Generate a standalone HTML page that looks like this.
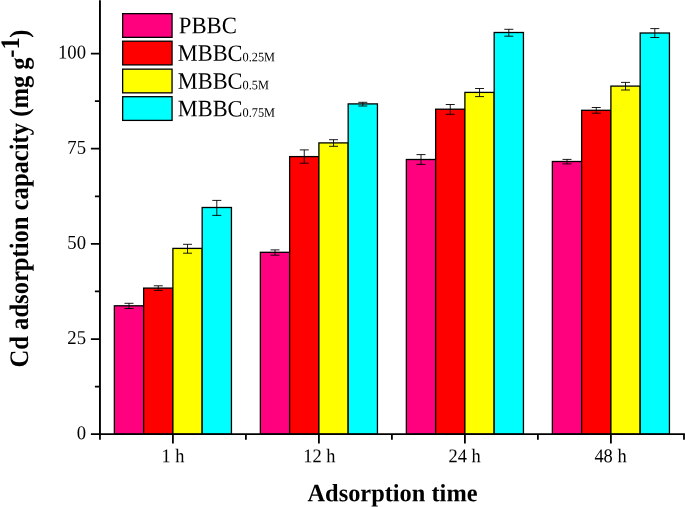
<!DOCTYPE html>
<html><head><meta charset="utf-8"><title>Cd adsorption capacity</title>
<style>
html,body{margin:0;padding:0;background:#fff;}
body{width:685px;height:507px;overflow:hidden;}
svg{display:block;will-change:transform;}
text{font-family:"Liberation Serif","Times New Roman",serif;fill:#000;text-rendering:geometricPrecision;}
.b{font-weight:bold;}
</style></head><body>
<svg width="685" height="507" viewBox="0 0 685 507">
<rect width="685" height="507" fill="#fff"/>
<rect x="114.36" y="305.80" width="29.27" height="128.45" fill="#ff007f" stroke="#000" stroke-width="1.3"/>
<rect x="143.63" y="288.10" width="29.27" height="146.15" fill="#ff0000" stroke="#000" stroke-width="1.3"/>
<rect x="172.90" y="248.40" width="29.27" height="185.85" fill="#ffff00" stroke="#000" stroke-width="1.3"/>
<rect x="202.17" y="207.50" width="29.27" height="226.75" fill="#00ffff" stroke="#000" stroke-width="1.3"/>
<rect x="260.36" y="252.30" width="29.27" height="181.95" fill="#ff007f" stroke="#000" stroke-width="1.3"/>
<rect x="289.63" y="156.60" width="29.27" height="277.65" fill="#ff0000" stroke="#000" stroke-width="1.3"/>
<rect x="318.90" y="142.90" width="29.27" height="291.35" fill="#ffff00" stroke="#000" stroke-width="1.3"/>
<rect x="348.17" y="103.90" width="29.27" height="330.35" fill="#00ffff" stroke="#000" stroke-width="1.3"/>
<rect x="406.36" y="159.50" width="29.27" height="274.75" fill="#ff007f" stroke="#000" stroke-width="1.3"/>
<rect x="435.63" y="109.20" width="29.27" height="325.05" fill="#ff0000" stroke="#000" stroke-width="1.3"/>
<rect x="464.90" y="92.40" width="29.27" height="341.85" fill="#ffff00" stroke="#000" stroke-width="1.3"/>
<rect x="494.17" y="32.50" width="29.27" height="401.75" fill="#00ffff" stroke="#000" stroke-width="1.3"/>
<rect x="552.36" y="161.50" width="29.27" height="272.75" fill="#ff007f" stroke="#000" stroke-width="1.3"/>
<rect x="581.63" y="110.30" width="29.27" height="323.95" fill="#ff0000" stroke="#000" stroke-width="1.3"/>
<rect x="610.90" y="86.10" width="29.27" height="348.15" fill="#ffff00" stroke="#000" stroke-width="1.3"/>
<rect x="640.17" y="33.00" width="29.27" height="401.25" fill="#00ffff" stroke="#000" stroke-width="1.3"/>
<path d="M129.00 303.30V308.50M124.50 303.30h9M124.50 308.50h9" stroke="#000" stroke-width="0.9" fill="none"/>
<path d="M158.26 285.80V290.40M153.76 285.80h9M153.76 290.40h9" stroke="#000" stroke-width="0.9" fill="none"/>
<path d="M187.53 244.30V253.20M183.03 244.30h9M183.03 253.20h9" stroke="#000" stroke-width="0.9" fill="none"/>
<path d="M216.81 200.40V215.40M212.31 200.40h9M212.31 215.40h9" stroke="#000" stroke-width="0.9" fill="none"/>
<path d="M275.00 249.90V255.20M270.50 249.90h9M270.50 255.20h9" stroke="#000" stroke-width="0.9" fill="none"/>
<path d="M304.26 149.90V163.20M299.76 149.90h9M299.76 163.20h9" stroke="#000" stroke-width="0.9" fill="none"/>
<path d="M333.54 139.70V146.30M329.04 139.70h9M329.04 146.30h9" stroke="#000" stroke-width="0.9" fill="none"/>
<path d="M362.81 102.30V106.00M358.31 102.30h9M358.31 106.00h9" stroke="#000" stroke-width="0.9" fill="none"/>
<path d="M421.00 154.60V164.40M416.50 154.60h9M416.50 164.40h9" stroke="#000" stroke-width="0.9" fill="none"/>
<path d="M450.26 104.50V114.30M445.76 104.50h9M445.76 114.30h9" stroke="#000" stroke-width="0.9" fill="none"/>
<path d="M479.54 88.50V96.60M475.04 88.50h9M475.04 96.60h9" stroke="#000" stroke-width="0.9" fill="none"/>
<path d="M508.81 29.30V36.20M504.31 29.30h9M504.31 36.20h9" stroke="#000" stroke-width="0.9" fill="none"/>
<path d="M567.00 159.40V163.90M562.50 159.40h9M562.50 163.90h9" stroke="#000" stroke-width="0.9" fill="none"/>
<path d="M596.26 107.50V113.20M591.76 107.50h9M591.76 113.20h9" stroke="#000" stroke-width="0.9" fill="none"/>
<path d="M625.53 82.40V90.00M621.03 82.40h9M621.03 90.00h9" stroke="#000" stroke-width="0.9" fill="none"/>
<path d="M654.81 28.60V37.50M650.31 28.60h9M650.31 37.50h9" stroke="#000" stroke-width="0.9" fill="none"/>
<path d="M99.95 0.3V434.25" stroke="#000" stroke-width="1.9" fill="none"/><path d="M99 434.15H684.9" stroke="#000" stroke-width="1.75" fill="none"/>
<path d="M90.9 434.20H99.9M90.9 339.04H99.9M90.9 243.88H99.9M90.9 148.72H99.9M90.9 53.56H99.9M94.9 386.62H99.9M94.9 291.46H99.9M94.9 196.30H99.9M94.9 101.14H99.9M172.9 434.25V443.6M318.9 434.25V443.6M464.9 434.25V443.6M610.9 434.25V443.6M99.95 434.25V439.7M245.9 434.25V439.7M391.9 434.25V439.7M537.9 434.25V439.7M684.0 434.25V439.7" stroke="#000" stroke-width="1.8" fill="none"/>
<text transform="translate(86.00 439.20) rotate(0.03) scale(1.0 1.05)" font-size="18.7" text-anchor="end">0</text>
<text transform="translate(86.00 344.04) rotate(0.03) scale(1.0 1.05)" font-size="18.7" text-anchor="end">25</text>
<text transform="translate(86.00 248.88) rotate(0.03) scale(1.0 1.05)" font-size="18.7" text-anchor="end">50</text>
<text transform="translate(86.00 153.72) rotate(0.03) scale(1.0 1.05)" font-size="18.7" text-anchor="end">75</text>
<text transform="translate(86.00 58.56) rotate(0.03) scale(1.0 1.05)" font-size="18.7" text-anchor="end">100</text>
<text transform="translate(173.00 462.35) rotate(0.03) scale(1.0 1.057)" font-size="18.4" text-anchor="middle">1 h</text>
<text transform="translate(319.30 462.35) rotate(0.03) scale(1.0 1.057)" font-size="18.4" text-anchor="middle">12 h</text>
<text transform="translate(464.70 462.35) rotate(0.03) scale(1.0 1.057)" font-size="18.4" text-anchor="middle">24 h</text>
<text transform="translate(610.50 462.35) rotate(0.03) scale(1.0 1.057)" font-size="18.4" text-anchor="middle">48 h</text>
<text class="b" transform="translate(392.50 501.20) rotate(0.03) scale(1.0 1.02)" font-size="24.4" text-anchor="middle">Adsorption time</text>
<text class="b" transform="translate(28.40 367.50) rotate(-90) scale(1.0 1.085)" font-size="24.6" text-anchor="start">Cd adsorption capacity (mg g<tspan dy="-8.3" dx="-0.4">-1</tspan><tspan dy="8.3" dx="-0.4">)</tspan></text>
<rect x="122.65" y="13.65" width="49.4" height="23.7" fill="#ff007f" stroke="#000" stroke-width="1.3"/>
<text transform="translate(178.80 33.30) rotate(0.03) scale(1.0 1.05)" font-size="22.7" text-anchor="start">PBBC</text>
<rect x="122.65" y="41.20" width="49.4" height="23.7" fill="#ff0000" stroke="#000" stroke-width="1.3"/>
<text transform="translate(177.80 60.85) rotate(0.03) scale(1.0 1.05)" font-size="22.4" text-anchor="start">MBBC<tspan font-size="12.3" dy="0.4">0.25M</tspan></text>
<rect x="122.65" y="69.15" width="49.4" height="23.7" fill="#ffff00" stroke="#000" stroke-width="1.3"/>
<text transform="translate(177.80 88.80) rotate(0.03) scale(1.0 1.05)" font-size="22.4" text-anchor="start">MBBC<tspan font-size="12.3" dy="0.4">0.5M</tspan></text>
<rect x="122.65" y="96.70" width="49.4" height="23.7" fill="#00ffff" stroke="#000" stroke-width="1.3"/>
<text transform="translate(177.80 116.35) rotate(0.03) scale(1.0 1.05)" font-size="22.4" text-anchor="start">MBBC<tspan font-size="12.3" dy="0.4">0.75M</tspan></text>
</svg></body></html>
